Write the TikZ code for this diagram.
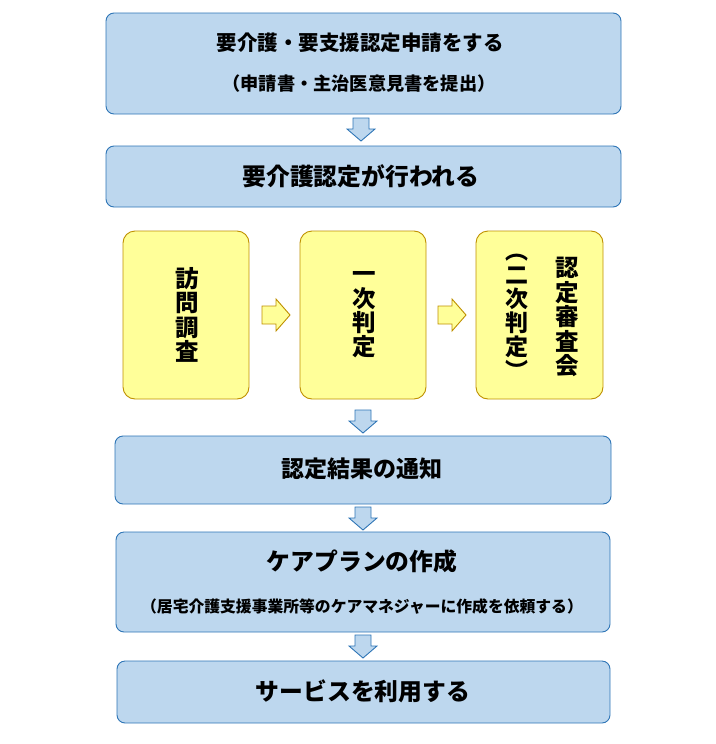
\documentclass[tikz,border=0pt]{standalone}
\usepackage{fontspec}
\newfontfamily\jp{Noto Sans CJK JP}
\definecolor{bfill}{HTML}{BDD7EE}
\definecolor{bline}{HTML}{2E75B6}
\definecolor{yfill}{HTML}{FFFF99}
\definecolor{yline}{HTML}{BF9000}
\tikzset{
  bluebox/.style={draw=bline, fill=bfill, line width=0.9pt, rounded corners=8pt, inner sep=0pt},
  yellowbox/.style={draw=yline, fill=yfill, line width=0.9pt, rounded corners=12pt, inner sep=0pt},
  darr/.style={draw=bline, fill=bfill, line width=0.9pt, line join=miter},
  rarr/.style={draw=yline, fill=yfill, line width=0.9pt, line join=miter},
  ttl/.style={font=\jp\bfseries\fontsize{23.8}{26}\selectfont, inner sep=0pt},
  sub/.style={font=\jp\bfseries\fontsize{15.8}{18}\selectfont, inner sep=0pt},
  vert/.style={font=\jp\bfseries\fontsize{23.5}{24.3}\selectfont, align=center, inner sep=0pt},
}
\begin{document}
\begin{tikzpicture}[x=1pt,y=-1pt]
\useasboundingbox (0,0) rectangle (715,744);
% boxes
\node[bluebox, minimum width=515pt, minimum height=101pt] (b1) at (363.5,63.5) {};
\node[ttl, font=\jp\bfseries\fontsize{20.5}{24}\selectfont] (t1) at (360,43) {要介護・要支援認定申請をする};
\node[sub, font=\jp\bfseries\fontsize{18.2}{20}\selectfont] (s1) at (359,84) {（申請書・主治医意見書を提出）};

\node[bluebox, minimum width=515pt, minimum height=61pt] (b2) at (363.5,176.5) {};
\node[ttl] (t2) at (361,176) {要介護認定が行われる};

\node[yellowbox, minimum width=126pt, minimum height=168pt] (y1) at (186,315) {};
\node[yellowbox, minimum width=126pt, minimum height=168pt] (y2) at (363,315) {};
\node[yellowbox, minimum width=127pt, minimum height=168pt] (y3) at (539.5,315) {};
\node[vert] (v1) at (187,315) {訪\\問\\調\\査};
\node[vert] (v2) at (364,315) {一\\次\\判\\定};
\node[vert, font=\jp\bfseries\fontsize{23.5}{24.5}\selectfont] (v3) at (567,317) {認\\定\\審\\査\\会};
\node[vert, font=\jp\bfseries\fontsize{23}{24}\selectfont] (v4) at (517,317) {︵\\二\\次\\判\\定\\︶};

\node[bluebox, minimum width=496pt, minimum height=68pt] (b3) at (363,470) {};
\node[ttl, font=\jp\bfseries\fontsize{23}{26}\selectfont] (t3) at (362,469) {認定結果の通知};

\node[bluebox, minimum width=494pt, minimum height=100pt] (b4) at (363,582) {};
\node[ttl] (t4) at (362,561) {ケアプランの作成};
\node[sub] (s4) at (362,606) {（居宅介護支援事業所等のケアマネジャーに作成を依頼する）};

\node[bluebox, minimum width=493pt, minimum height=62pt] (b5) at (363.5,692) {};
\node[ttl] (t5) at (363,691) {サービスを利用する};

% down arrows
\foreach \n/\xx/\yy in {d1/361/118, d2/363/410, d3/363/507, d4/363/635}{
  \coordinate (\n) at (\xx,\yy);
  \draw[darr] (\n) ++(-8,0) -- ++(16,0) -- ++(0,11) -- ++(6,0) -- ++(-14,12) -- ++(-14,-12) -- ++(6,0) -- cycle;
}
% right arrows
\foreach \n/\xx in {r1/262, r2/438}{
  \coordinate (\n) at (\xx,315);
  \draw[rarr] (\n) ++(0,-9) -- ++(14,0) -- ++(0,-7) -- ++(14,16) -- ++(-14,16) -- ++(0,-7) -- ++(-14,0) -- cycle;
}
\end{tikzpicture}
\end{document}
